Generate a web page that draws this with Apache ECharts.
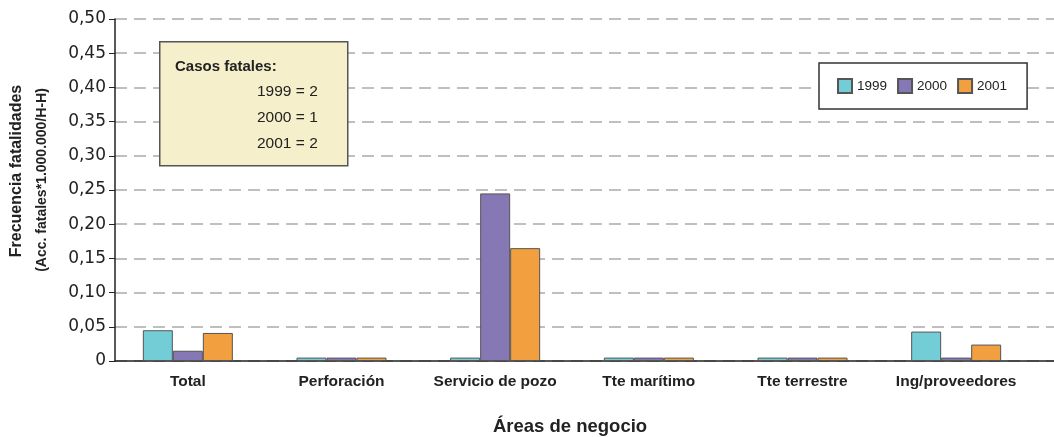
<!DOCTYPE html>
<html>
<head>
<meta charset="utf-8">
<script src="https://cdn.jsdelivr.net/npm/echarts@6/dist/echarts.min.js"></script>
<style>html,body{margin:0;padding:0;background:#fff}#c{width:1054px;height:437px}</style>
</head>
<body>
<div id="c"></div>
<script>
const categories = ['Total', 'Perforación', 'Servicio de pozo', 'Tte marítimo', 'Tte terrestre', 'Ing/proveedores'];
const seriesNames = ['1999', '2000', '2001'];
const values1999 = [0.045, 0.005, 0.005, 0.005, 0.005, 0.043];
const values2000 = [0.015, 0.005, 0.245, 0.005, 0.005, 0.005];
const values2001 = [0.041, 0.005, 0.165, 0.005, 0.005, 0.024];
const colors = ['#72CDD6', '#8677B5', '#F2A03F'];
const noteTitle = 'Casos fatales:';
const noteLines = ['1999 = 2', '2000 = 1', '2001 = 2'];
const yTitle = 'Frecuencia fatalidades';
const ySubTitle = '(Acc. fatales*1.000.000/H-H)';
const xTitle = 'Áreas de negocio';

const FONT = '"Liberation Sans", Arial, sans-serif';
const chart = echarts.init(document.getElementById('c'));
const allValues = [values1999, values2000, values2001];

chart.setOption({
  animation: false,
  textStyle: { fontFamily: FONT },
  grid: [
    { left: 111, right: 21, top: 19, bottom: 76 },
    { left: 115, right: 0, top: 19, bottom: 76 }
  ],
  legend: {
    data: seriesNames.map(n => ({ name: n, icon: 'rect' })),
    left: 819, top: 63,
    padding: [15, 20, 15, 18],
    itemWidth: 14, itemHeight: 14, itemGap: 10,
    backgroundColor: '#fff',
    borderColor: '#333', borderWidth: 1.5, borderRadius: 0,
    textStyle: { fontSize: 13.5, color: '#222', fontFamily: FONT },
    z: 10
  },
  xAxis: [
    {
      type: 'category', gridIndex: 0, data: categories,
      axisLine: { show: false }, axisTick: { show: false },
      axisLabel: { interval: 0, hideOverlap: false, fontSize: 15.5, fontWeight: 'bold', color: '#222', margin: 13, fontFamily: FONT }
    },
    {
      type: 'value', gridIndex: 1, min: 0, max: 1,
      axisLine: { show: true, lineStyle: { color: '#222', width: 1.5 } },
      axisTick: { show: false }, axisLabel: { show: false }, splitLine: { show: false }
    }
  ],
  yAxis: [
    {
      type: 'value', gridIndex: 0, min: 0, max: 0.5, interval: 0.05,
      axisLine: { show: false }, axisTick: { show: false }, axisLabel: { show: false },
      splitLine: { show: false }
    },
    {
      type: 'value', gridIndex: 1, min: 0, max: 0.5, interval: 0.05,
      axisLine: { show: true, lineStyle: { color: '#222', width: 1.5 } },
      axisTick: { show: true, length: 6, lineStyle: { color: '#222', width: 1 } },
      axisLabel: {
        fontSize: 17, color: '#222', margin: 9, fontFamily: '"DejaVu Sans", sans-serif',
        formatter: v => v === 0 ? '0' : v.toFixed(2).replace('.', ',')
      },
      splitLine: { show: true, lineStyle: { color: '#aaa', width: 1.5, type: [12, 7] } }
    }
  ],
  series: seriesNames.map((n, i) => ({
    name: n, type: 'bar', xAxisIndex: 0, yAxisIndex: 0,
    data: allValues[i], barWidth: 30, barGap: '0%',
    itemStyle: { color: colors[i], borderColor: '#555', borderWidth: 1 },
    z: 3
  })),
  graphic: [
    {
      type: 'rect', left: 159, top: 41, z: 20,
      shape: { width: 188, height: 124 },
      style: { fill: '#F5EFCB', stroke: '#555', lineWidth: 1.5 }
    },
    { type: 'text', left: 175, top: 59, z: 21,
      style: { text: noteTitle, font: 'bold 15px ' + FONT, fill: '#222' } },
    ...noteLines.map((t, i) => ({
      type: 'text', left: 257, top: 84 + i * 26, z: 21,
      style: { text: t, font: '15.5px ' + FONT, fill: '#222' }
    })),
    {
      type: 'text', z: 21, x: 17, y: 171, rotation: Math.PI / 2,
      style: { text: yTitle, font: 'bold 16px ' + FONT, fill: '#222', align: 'center', verticalAlign: 'middle' }
    },
    {
      type: 'text', z: 21, x: 42, y: 180, rotation: Math.PI / 2,
      style: { text: ySubTitle, font: 'bold 14px ' + FONT, fill: '#222', align: 'center', verticalAlign: 'middle' }
    },
    {
      type: 'text', z: 21, x: 570, y: 427,
      style: { text: xTitle, font: 'bold 18.5px ' + FONT, fill: '#222', align: 'center', verticalAlign: 'middle' }
    }
  ]
});
</script>
</body>
</html>
